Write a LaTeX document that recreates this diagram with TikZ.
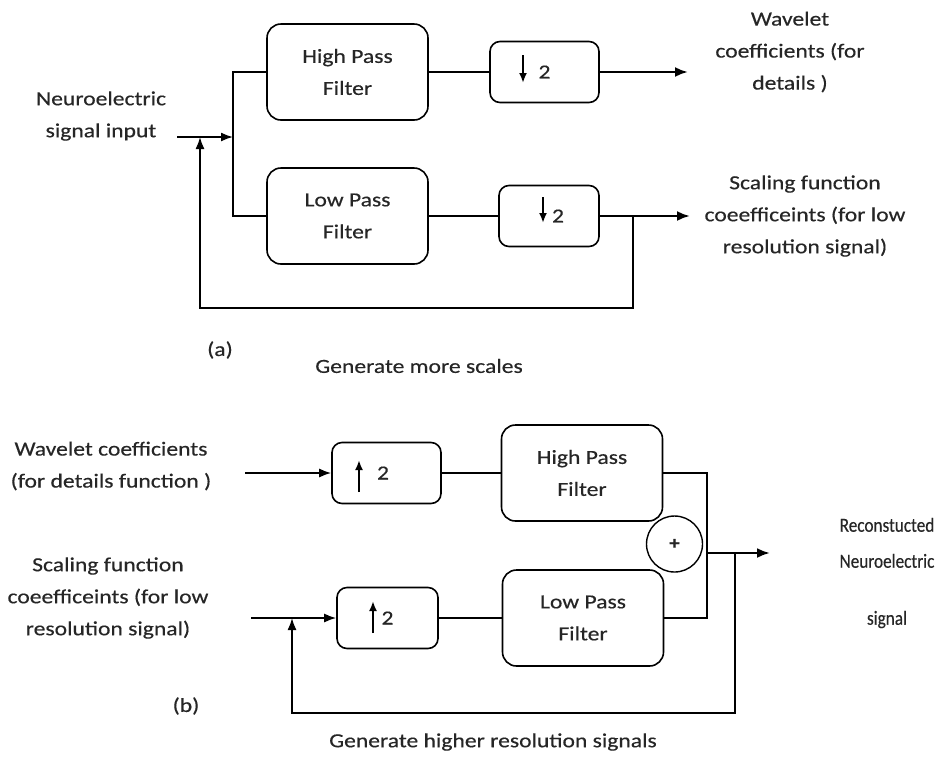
\documentclass[tikz,border=0pt]{standalone}
\usepackage{fontspec}
\setmainfont{Carlito}[FakeStretch=1.18, FakeBold=0.4]
\newfontfamily\narrowfont{Carlito}[FakeStretch=0.86, FakeBold=0.4]
\usetikzlibrary{arrows.meta}

\begin{document}
\begin{tikzpicture}[x=1pt, y=-1pt, font=\fontsize{20}{32}\selectfont, text=black!85]
  \tikzstyle{round} = [rectangle, rounded corners=14pt, minimum width=161pt, minimum height=96pt, inner sep=0pt, align=center, draw=black, line width=1.6pt]
  \tikzstyle{rate} = [rectangle, rounded corners=10pt, minimum height=61pt, inner sep=0pt, draw=black, line width=1.6pt]
  \tikzstyle{line} = [line width=1.3pt]
  \tikzstyle{arrow} = [line width=1.6pt, -{Latex[length=12pt,width=9pt]}]
  \tikzstyle{outarrow} = [line width=2.4pt, -{Latex[length=13pt,width=10pt]}]
  \tikzstyle{tick} = [line width=2pt, -{Latex[length=10pt,width=8pt]}]
  \tikzstyle{txt} = [align=center, inner sep=0pt]

  \useasboundingbox (0,0) rectangle (941,756);

  % (a) decomposition
  \node (hpf) [round] at (347.5,72) {High Pass\\Filter};
  \node (lpf) [round] at (347.5,216) {Low Pass\\Filter};
  \node (d1) [rate, minimum width=109pt] at (544.5,72) {2};
  \node (d2) [rate, minimum width=100pt] at (549,216) {\hspace*{18pt}\raisebox{-6pt}{2}};
  \draw [tick] (d1.center) ++(-21.5,-17) -- ++(0,28);
  \draw [tick] (d2.center) ++(-6,-19) -- ++(0,26);

  \coordinate (in) at (177,137);
  \coordinate (split) at (233,137);
  \coordinate (fbin) at (200,137);
  \coordinate (wout) at (688,72);
  \coordinate (sout) at (690,216);
  \coordinate (fb) at (633,216);

  \draw [arrow] (in) -- (split);
  \draw [line] (split) |- (hpf.west);
  \draw [line] (split) |- (lpf.west);
  \draw [line] (hpf) -- (d1);
  \draw [line] (lpf) -- (d2);
  \draw [outarrow] (d1) -- (wout);
  \draw [outarrow] (d2) -- (sout);
  \draw [arrow] (fb) -- ++(0,92) -| (fbin);

  \node (insig) [txt] at (101,116) {Neuroelectric\\signal input};
  \node (wcoef) [txt] at (790,52) {Wavelet\\coefficients (for\\details )};
  \node (scoef) [txt] at (805,216) {Scaling function\\coeefficeints (for low\\resolution signal)};
  \node (tag1) [txt] at (220,350) {(a)};
  \node (more) [txt] at (419,366) {Generate more scales};

  % (b) reconstruction
  \node (hpf2) [round] at (582,473) {High Pass\\Filter};
  \node (lpf2) [round] at (583,618) {Low Pass\\Filter};
  \node (u1) [rate, minimum width=109pt] at (386.5,473) {2\hspace*{7pt}};
  \node (u2) [rate, minimum width=101pt] at (387.5,618) {2};
  \draw [tick] (u1.center) ++(-27.5,19) -- ++(0,-32);
  \draw [tick] (u2.center) ++(-14.5,15) -- ++(0,-32);

  \coordinate (win) at (245,473);
  \coordinate (sin) at (251,618);
  \coordinate (fbin2) at (292,618);
  \coordinate (join) at (707,553);
  \coordinate (rout) at (770,553);
  \coordinate (fb2) at (735,553);

  \draw [arrow] (win) -- (u1);
  \draw [arrow] (sin) -- (u2);
  \draw [line] (u1) -- (hpf2);
  \draw [line] (u2) -- (lpf2);
  \draw [line] (hpf2.east) -| (join) |- (lpf2.east);
  \draw [outarrow] (join) -- (rout);
  \draw [arrow] (fb2) -- ++(0,160) -| (fbin2);

  \node (sum) [circle, draw=black, fill=white, line width=1.4pt, minimum size=56pt, inner sep=0pt, font=\fontsize{18}{18}\selectfont\bfseries] at (674.5,544) {+};

  \node (wdet) [txt] at (111,466) {Wavelet coefficients\\(for details function )};
  \node (sdet) [txt] at (108,598) {Scaling function\\coeefficeints (for low\\resolution signal)};
  \node (recon) [txt, font=\narrowfont\fontsize{20}{36}\selectfont] at (887,573) {Reconstucted\\Neuroelectric\\[21pt]signal};
  \node (tag2) [txt] at (186,706) {(b)};
  \node (higher) [txt] at (493,742) {Generate higher resolution signals};
\end{tikzpicture}
\end{document}
